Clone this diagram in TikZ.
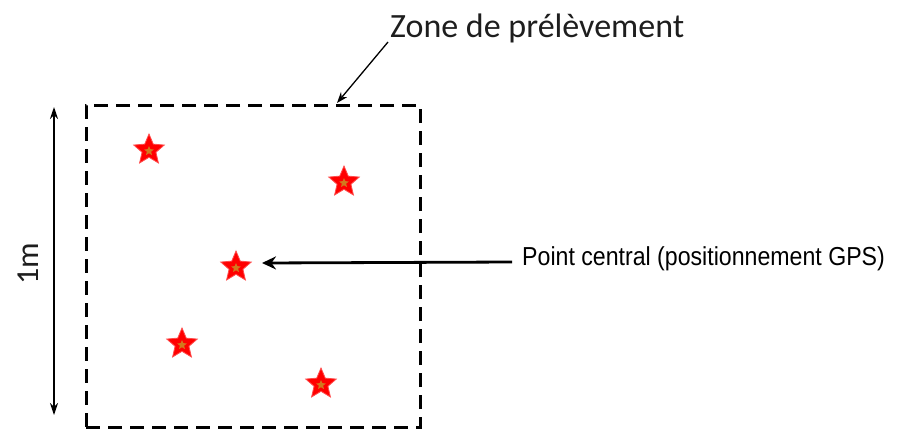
\documentclass[tikz,border=0pt]{standalone}
\usepackage{fontspec}
\setmainfont{Carlito}
\newfontfamily\arialn[FakeStretch=0.89]{Liberation Sans}
\usetikzlibrary{shapes.geometric,arrows.meta}
\definecolor{starred}{RGB}{255,0,0}
\definecolor{starcore}{RGB}{210,120,30}
\definecolor{txt}{RGB}{30,30,30}
\begin{document}
\begin{tikzpicture}[x=1pt,y=-1pt,
  zonebox/.style={draw=black,line width=3pt,dash pattern=on 14pt off 8pt,minimum width=334pt,minimum height=322pt,inner sep=0pt},
  redstar/.style={star,star points=5,star point ratio=2.2,fill=starred,draw=starred!70!white,line width=0.8pt,minimum size=32pt,inner sep=0pt},
  thinarrow/.style={line width=1.3pt,-{Stealth[length=11pt,width=8pt]}},
  thickarrow/.style={line width=2.8pt,-{Stealth[length=14pt,width=13pt]}}]
\useasboundingbox (0,0) rectangle (904,429);
\node[zonebox] (zone) at (253,266) {};
\foreach \n/\px/\py in {s1/149/150, s2/344/182, s3/236/267, s4/182/344, s5/321/384}{
  \node[redstar] (\n) at (\px,\py) {};
  \node[star,star points=5,star point ratio=2.2,fill=starcore,minimum size=10pt,inner sep=0pt] at (\px,\py+1) {};
}
\node[anchor=base west,text=txt,font=\fontsize{34pt}{36pt}\selectfont,inner sep=0pt] (zl) at (390,37) {Zone de prélèvement};
\coordinate (zlfoot) at (388,42);
\coordinate (ztop) at (337,103);
\draw[thinarrow] (zlfoot) -- (ztop);
\node[anchor=base west,font=\arialn\fontsize{26pt}{28pt}\selectfont,inner sep=0pt] (pc) at (522,265) {Point central (positionnement GPS)};
\coordinate (pcstart) at (512,262);
\coordinate (pcend) at (262,263);
\draw[thickarrow] (pcstart) -- (pcend);
\coordinate (mtop) at (54,107);
\coordinate (mbot) at (54,415);
\draw[line width=1.3pt,{Stealth[length=12pt,width=8pt]}-{Stealth[length=12pt,width=8pt]}] (mtop) -- (mbot);
\node[rotate=90,text=txt,font=\fontsize{32pt}{34pt}\selectfont,inner sep=0pt] (m) at (28,264) {1m};
\end{tikzpicture}
\end{document}
